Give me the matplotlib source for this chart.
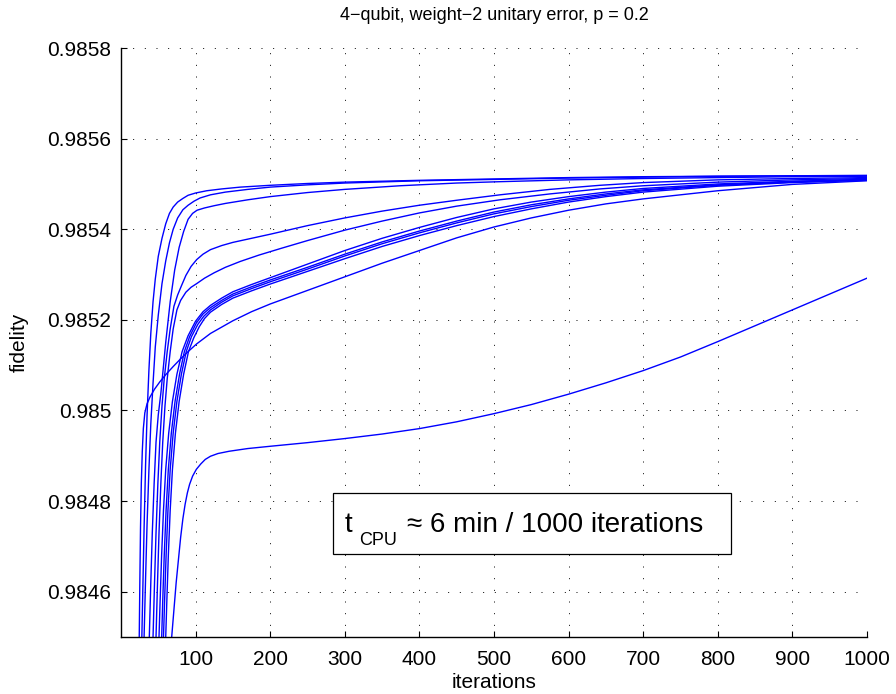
import matplotlib
matplotlib.use("Agg")
import matplotlib.pyplot as plt
from matplotlib.patches import Rectangle

plt.rcParams['font.family'] = ['Liberation Sans', 'DejaVu Sans']

# curves (iterations, fidelity)
c1_x = [28, 29.5, 31, 33, 35, 37.5, 40, 43, 46, 50, 55, 60, 65, 70, 76, 83, 90, 100, 115, 135, 160,
        200, 250, 300, 400, 500, 600, 700, 800, 900, 1000]
c1_y = [0.98450, 0.98462, 0.98474, 0.98488, 0.98499, 0.98509, 0.98517, 0.98524, 0.98529, 0.98534,
        0.98538, 0.985412, 0.985435, 0.985449, 0.98546, 0.985468, 0.985475, 0.98548, 0.985485,
        0.985489, 0.985493, 0.985497, 0.985501, 0.985504, 0.985508, 0.985511, 0.985514, 0.985516,
        0.985517, 0.985518, 0.985519]

c2_x = [31, 33, 35, 37.5, 40, 43, 46, 50, 55, 60, 65, 70, 76, 83, 90, 98, 106, 120, 140, 170, 200,
        250, 300, 400, 500, 600, 700, 800, 900, 1000]
c2_y = [0.98450, 0.98463, 0.98475, 0.98487, 0.98497, 0.98506, 0.98514, 0.98521, 0.98528, 0.98533,
        0.98537, 0.98540, 0.985425, 0.985443, 0.985453, 0.985462, 0.985469, 0.985476, 0.985482,
        0.985488, 0.985493, 0.985498, 0.985502, 0.985507, 0.98551, 0.985513, 0.985515, 0.985517,
        0.985518, 0.985518]

c3_x = [38, 40, 42, 44.5, 47, 50, 53.6, 60, 66, 72, 78, 84, 90, 96, 102, 112, 125, 140, 170, 200,
        250, 300, 374, 450, 508, 600, 700, 800, 900, 1000]
c3_y = [0.98450, 0.98462, 0.98473, 0.98484, 0.98493, 0.98499, 0.98504, 0.98515, 0.98524, 0.98531,
        0.98536, 0.985395, 0.985422, 0.985435, 0.985442, 0.985447, 0.985452, 0.985457, 0.985465,
        0.985472, 0.985481, 0.985488, 0.985496, 0.985502, 0.985505, 0.985509, 0.985512, 0.985514,
        0.985516, 0.985517]

c4_x = [43, 45, 47, 49.5, 52, 55, 58, 62, 66, 71, 76, 81, 87, 94, 101.5, 110, 120, 135, 150, 175,
        200, 250, 300, 350, 400, 450, 508, 575, 642, 700, 800, 900, 1000]
c4_y = [0.98450, 0.98462, 0.98473, 0.98484, 0.98493, 0.98501, 0.98507, 0.98513, 0.98518, 0.98523,
        0.985255, 0.985275, 0.985298, 0.985318, 0.985333, 0.985345, 0.985355, 0.985364, 0.985371,
        0.98538, 0.985389, 0.985408, 0.985425, 0.98544, 0.985453, 0.985464, 0.985476, 0.985488,
        0.985497, 0.985503, 0.985509, 0.985512, 0.985514]

c5_x = [47, 49, 51, 53.5, 56, 59, 62, 66, 70, 75, 80, 87, 94, 101.5, 112, 125, 140, 160, 185, 215,
        250, 300, 350, 400, 450, 508, 575, 642, 700, 800, 900, 1000]
c5_y = [0.98450, 0.98462, 0.98473, 0.98484, 0.98493, 0.98501, 0.98507, 0.98513, 0.98518, 0.985222,
        0.985243, 0.985261, 0.985272, 0.98528, 0.985292, 0.985304, 0.985316, 0.985329, 0.985343,
        0.985358, 0.985375, 0.985398, 0.985418, 0.985436, 0.985451, 0.985465, 0.985478, 0.985489,
        0.985496, 0.985504, 0.985509, 0.985512]

c6_x = [51, 52.5, 54.5, 57, 60, 64, 69, 75, 82, 90, 100, 110, 120, 135, 150, 175, 200, 250, 300,
        350, 400, 450, 500, 550, 600, 650, 700, 800, 900, 1000]
c6_y = [0.98450, 0.98458, 0.98468, 0.98478, 0.98487, 0.98495, 0.98502, 0.98508, 0.98513, 0.985165,
        0.985197, 0.985218, 0.985232, 0.985248, 0.985262, 0.985278, 0.985293, 0.985323, 0.985353,
        0.98538, 0.985404, 0.985426, 0.985445, 0.98546, 0.985472, 0.985482, 0.98549, 0.98550,
        0.985506, 0.98551]

c7_x = [54.6, 56, 58, 60.5, 63.5, 67.5, 72.5, 78.5, 85, 92, 101, 110, 120, 135, 150, 175, 200, 250,
        300, 350, 400, 450, 500, 550, 600, 650, 700, 800, 900, 1000]
c7_y = [0.98450, 0.98458, 0.98468, 0.98478, 0.98487, 0.98495, 0.98502, 0.98508, 0.98513, 0.985163,
        0.985193, 0.985213, 0.985227, 0.985243, 0.985257, 0.985273, 0.985288, 0.985316, 0.985345,
        0.985372, 0.985396, 0.985418, 0.985438, 0.985454, 0.985467, 0.985478, 0.985487, 0.985498,
        0.985505, 0.98551]

c8_x = [57, 58.5, 60.5, 63, 66, 70, 75, 81, 87.5, 94.5, 103, 111, 120, 135, 150, 175, 200, 250,
        300, 350, 400, 450, 500, 550, 600, 650, 700, 800, 900, 1000]
c8_y = [0.98450, 0.98458, 0.98468, 0.98478, 0.98487, 0.98495, 0.98502, 0.98508, 0.98513, 0.985163,
        0.98519, 0.985208, 0.985222, 0.985239, 0.985253, 0.985269, 0.985284, 0.985312, 0.985341,
        0.985368, 0.985392, 0.985414, 0.985434, 0.98545, 0.985464, 0.985475, 0.985485, 0.985497,
        0.985504, 0.985509]

c9_x = [60, 61.5, 63.5, 66, 69, 73, 78, 84, 90.5, 97.5, 105, 112, 120, 135, 150, 175, 200, 250,
        300, 350, 400, 450, 500, 550, 600, 650, 700, 800, 900, 1000]
c9_y = [0.98450, 0.98458, 0.98468, 0.98478, 0.98487, 0.98495, 0.98502, 0.98508, 0.98513, 0.98516,
        0.985185, 0.985203, 0.985217, 0.985234, 0.985248, 0.985264, 0.985279, 0.985307, 0.985335,
        0.985362, 0.985386, 0.985408, 0.985428, 0.985445, 0.98546, 0.985472, 0.985482, 0.985495,
        0.985503, 0.985508]

c10_x = [24.5, 25.3, 26.2, 27.3, 28.6, 30, 32, 35, 39, 45, 52, 60, 70, 80, 90, 101.5, 120, 150, 175,
         200, 250, 300, 350, 400, 450, 500, 550, 600, 650, 700, 800, 900, 1000]
c10_y = [0.98450, 0.98462, 0.98474, 0.98484, 0.98491, 0.98496, 0.984995, 0.985015, 0.98503,
         0.985047, 0.985063, 0.985079, 0.985097, 0.985114, 0.98513, 0.985147, 0.98517, 0.985198,
         0.985218, 0.985235, 0.985265, 0.985295, 0.985325, 0.985353, 0.985381, 0.985405, 0.985425,
         0.985442, 0.985456, 0.985467, 0.985485, 0.985499, 0.985507]

c11_x = [68, 71, 74, 77, 80, 83, 86, 89, 92, 96, 101, 107, 113, 120, 130, 145, 170, 200, 250, 300,
         350, 400, 450, 500, 550, 600, 650, 700, 750, 800, 850, 900, 950, 1000]
c11_y = [0.98450, 0.98456, 0.98462, 0.98467, 0.98472, 0.984761, 0.984793, 0.984818, 0.984837,
         0.984855, 0.98487, 0.984882, 0.984892, 0.984899, 0.984905, 0.98491, 0.984916, 0.984921,
         0.984929, 0.984938, 0.984948, 0.98496, 0.984975, 0.984993, 0.985013, 0.985036, 0.985061,
         0.985088, 0.985118, 0.985152, 0.985187, 0.985222, 0.985257, 0.985292]

curves = [(c1_x, c1_y), (c2_x, c2_y), (c3_x, c3_y), (c4_x, c4_y), (c5_x, c5_y), (c6_x, c6_y),
          (c7_x, c7_y), (c8_x, c8_y), (c9_x, c9_y), (c10_x, c10_y), (c11_x, c11_y)]

x_ticks = [100, 200, 300, 400, 500, 600, 700, 800, 900, 1000]
y_ticks = [0.9846, 0.9848, 0.985, 0.9852, 0.9854, 0.9856, 0.9858]
y_tick_labels = ["0.9846", "0.9848", "0.985", "0.9852", "0.9854", "0.9856", "0.9858"]

fig = plt.figure(figsize=(8.96, 6.94), dpi=100)
ax = fig.add_axes([0.135, 0.0821, 0.8326, 0.8487])

for xs, ys in curves:
    ax.plot(xs, ys, color=(0, 0, 1), lw=1.0)

ax.set_xlim(0, 1000)
ax.set_ylim(0.9845, 0.9858)
ax.set_xticks(x_ticks)
ax.set_yticks(y_ticks)
ax.set_yticklabels(y_tick_labels)
ax.tick_params(direction='in', length=4, labelsize=15, width=0.8)
ax.tick_params(axis='y', pad=7)
ax.tick_params(axis='x', pad=9)
ax.spines['top'].set_visible(False)
ax.spines['right'].set_visible(False)
for s in ['left', 'bottom']:
    ax.spines[s].set_linewidth(1.0)
ax.grid(True, color='black', linestyle=(0, (1, 11)), linewidth=0.7)

ax.set_xlabel("iterations", fontsize=15, labelpad=3)
ax.set_ylabel("fidelity", fontsize=15, labelpad=13)
ax.set_title("4\u2212qubit, weight\u22122 unitary error, p = 0.2", fontsize=13, pad=20)

# annotation box
ax.add_patch(Rectangle((0.284, 0.141), 0.534, 0.1035, transform=ax.transAxes,
                       facecolor='white', edgecolor='black', lw=0.9, zorder=5))
ax.text(0.3003, 0.1783, "t", transform=ax.transAxes, fontsize=20,
        va='baseline', ha='left', zorder=6)
ax.text(0.3190, 0.1560, "CPU", transform=ax.transAxes, fontsize=13,
        va='baseline', ha='left', zorder=6)
ax.text(0.3834, 0.1783, "\u2248 6 min / 1000 iterations", transform=ax.transAxes, fontsize=20,
        va='baseline', ha='left', zorder=6)

fig.savefig("out.png", dpi=100)
